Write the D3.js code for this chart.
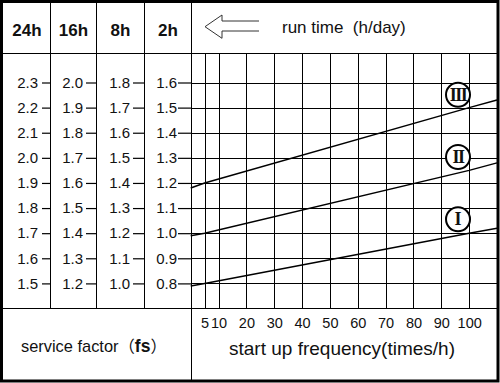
<!DOCTYPE html>
<html>
<head>
<meta charset="utf-8">
<script src="https://cdn.jsdelivr.net/npm/d3@7"></script>
<style>
  html, body { margin: 0; padding: 0; background: #fff; }
  svg { display: block; }
  text { font-family: "Liberation Sans", Arial, sans-serif; fill: #111; }
</style>
</head>
<body>
<svg id="chart" width="500" height="383"></svg>
<script>
// ---------- data ----------
const runTimeHeaders = ["24h", "16h", "8h", "2h"];
const fs24h = [1.5, 1.6, 1.7, 1.8, 1.9, 2.0, 2.1, 2.2, 2.3];
const fs16h = [1.2, 1.3, 1.4, 1.5, 1.6, 1.7, 1.8, 1.9, 2.0];
const fs8h  = [1.0, 1.1, 1.2, 1.3, 1.4, 1.5, 1.6, 1.7, 1.8];
const fs2h  = [0.8, 0.9, 1.0, 1.1, 1.2, 1.3, 1.4, 1.5, 1.6];
const freqTicks = [5, 10, 20, 30, 40, 50, 60, 70, 80, 90, 100];
const freqPts   = [0, 5, 100, 110];
const curveI    = [0.79, 0.80, 1.00, 1.02];
const curveII   = [0.99, 1.00, 1.25, 1.28];
const curveIII  = [1.18, 1.20, 1.50, 1.53];
const curveNames = ["I", "II", "III"];
const labelFreq = 96;

(function () {
// ---------- layout ----------
const frameTop = 3, headerBottom = 53, gridBottom = 308, frameBottom = 380, frameLeft = 3, frameRight = 497;
const colEdges = [frameLeft, 50, 96, 144, 191];
const yTop = 82.5, yBot = 283.4;

const svg = d3.select("#chart");

svg.append("rect").attr("x", 1.5).attr("y", 1.5).attr("width", 496.5).attr("height", 379.5)
  .attr("fill", "none").attr("stroke", "#000").attr("stroke-width", 3);

const x = d3.scaleLinear().domain([0, 110]).range([190.7, 497]);
const colScales = [fs24h, fs16h, fs8h, fs2h].map(arr =>
  d3.scaleLinear().domain([arr[0], arr[arr.length - 1]]).range([yBot, yTop]));
const y = colScales[3];

const lines = svg.append("g").attr("stroke", "#000").attr("stroke-width", 1).attr("shape-rendering", "crispEdges");
lines.append("line").attr("x1", frameLeft).attr("x2", frameRight).attr("y1", headerBottom).attr("y2", headerBottom);
lines.append("line").attr("x1", frameLeft).attr("x2", frameRight).attr("y1", gridBottom).attr("y2", gridBottom);
colEdges.slice(1, 4).forEach(cx => {
  lines.append("line").attr("x1", cx).attr("x2", cx).attr("y1", frameTop).attr("y2", gridBottom);
});
lines.append("line").attr("x1", colEdges[4]).attr("x2", colEdges[4]).attr("y1", frameTop).attr("y2", frameBottom);

lines.selectAll(".vg").data(freqTicks).join("line").attr("class", "vg")
  .attr("x1", d => Math.round(x(d)) + 0.5).attr("x2", d => Math.round(x(d)) + 0.5)
  .attr("y1", headerBottom).attr("y2", gridBottom);
lines.selectAll(".hg").data(fs2h).join("line").attr("class", "hg")
  .attr("x1", colEdges[4]).attr("x2", frameRight)
  .attr("y1", d => Math.round(y(d)) + 0.5).attr("y2", d => Math.round(y(d)) + 0.5);

svg.selectAll(".hdr").data(runTimeHeaders).join("text").attr("class", "hdr")
  .attr("x", (d, i) => (colEdges[i] + colEdges[i + 1]) / 2 + 0.5)
  .attr("y", 36).attr("text-anchor", "middle")
  .attr("font-size", 17).attr("font-weight", "bold").text(d => d);

svg.append("path")
  .attr("d", "M259,21 L222,21 L222,15 L205,26.7 L222,38.3 L222,31 L259,31")
  .attr("fill", "none").attr("stroke", "#333").attr("stroke-width", 1);
svg.append("text").attr("x", 282).attr("y", 33).attr("font-size", 17)
  .style("white-space", "pre").text("run time  (h/day)");

const tickSizes = [8, 10, 11, 13], tickPads = [4, 3, 3, 1];
[fs24h, fs16h, fs8h, fs2h].forEach((arr, i) => {
  const g = svg.append("g").attr("transform", `translate(${colEdges[i + 1]},0)`)
    .call(d3.axisLeft(colScales[i]).tickValues(arr).tickSize(tickSizes[i])
      .tickPadding(tickPads[i]).tickFormat(d3.format(".1f")));
  g.select(".domain").remove();
  g.selectAll("line").attr("stroke", "#000").attr("stroke-width", 1.2);
  g.selectAll("text").attr("font-size", 15).attr("fill", "#111");
});

const gx = svg.append("g").attr("transform", `translate(0,${gridBottom})`)
  .call(d3.axisBottom(x).tickValues(freqTicks).tickSize(0).tickPadding(10));
gx.select(".domain").remove();
gx.selectAll("text").attr("font-size", 14.5).attr("fill", "#111");

const curves = [curveI, curveII, curveIII];
const lineGen = d3.line().x(d => x(d[0])).y(d => y(d[1]));
svg.selectAll(".curve").data(curves).join("path").attr("class", "curve")
  .attr("d", c => lineGen(freqPts.map((f, j) => [f, c[j]])))
  .attr("fill", "none").attr("stroke", "#000").attr("stroke-width", 1.5);

curves.forEach((c, i) => {
  const v = d3.scaleLinear().domain(freqPts).range(c)(labelFreq);
  const cx = x(labelFreq), cy = y(v) - 16;
  svg.append("circle").attr("cx", cx).attr("cy", cy).attr("r", 12)
    .attr("fill", "#fff").attr("stroke", "#000").attr("stroke-width", 2);
  svg.append("text").attr("x", cx).attr("y", cy).attr("dy", "0.34em")
    .attr("text-anchor", "middle").attr("font-size", 18)
    .attr("letter-spacing", curveNames[i].length > 1 ? -1.5 : 0)
    .style("font-family", "'Liberation Serif', 'DejaVu Serif', serif")
    .style("font-weight", "bold")
    .text(curveNames[i]);
});

const sf = svg.append("text").attr("x", 21).attr("y", 352).attr("font-size", 16.4);
sf.append("tspan").text("service factor");
sf.append("tspan").style("font-family", "'Noto Sans CJK SC', sans-serif").text("（");
sf.append("tspan").attr("font-weight", "bold").attr("font-size", 17.5).text("fs");
sf.append("tspan").style("font-family", "'Noto Sans CJK SC', sans-serif").text("）");

svg.append("text").attr("x", 342).attr("y", 355).attr("text-anchor", "middle")
  .attr("font-size", 19).text("start up frequency(times/h)");
})();
</script>
</body>
</html>
